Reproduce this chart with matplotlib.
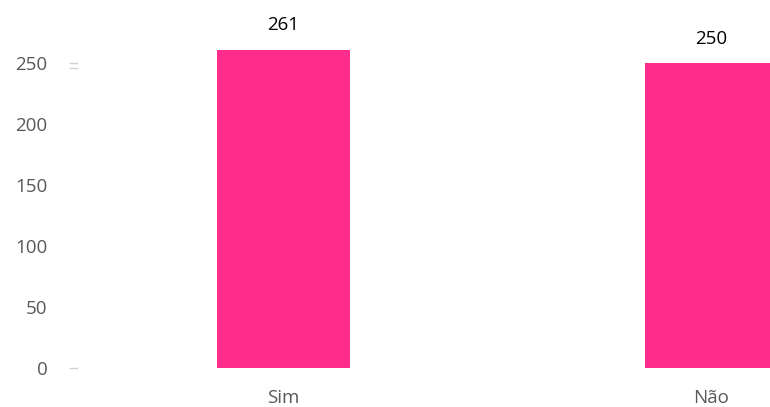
import matplotlib
matplotlib.use("Agg")
import matplotlib.pyplot as plt
from matplotlib.transforms import blended_transform_factory

categories = ["Sim", "Não"]
values = [261, 250]
yticks = [0, 50, 100, 150, 200, 250]

W, H = 770, 407
fig = plt.figure(figsize=(W / 100, H / 100), dpi=100)
left, bottom = 80, 39
ax = fig.add_axes([left / W, bottom / H, 1 - left / W, 1 - bottom / H])

x = list(range(len(categories)))
bars = ax.bar(x, values, width=0.311, color="#FF2D8B", zorder=2)
ax.set_xlim(-0.476, 1.138)
ax.set_ylim(0, 301.6)

FS = 13.5
for b, v in zip(bars, values):
    ax.annotate(str(v), (b.get_x() + b.get_width() / 2, v), xytext=(0, 11),
                textcoords="offset points", ha="center", va="bottom",
                fontsize=FS, color="black", family="Open Sans")

ax.set_xticks(x)
ax.set_xticklabels(categories)
ax.set_yticks(yticks)
ax.tick_params(axis="y", length=0, pad=23.5, labelsize=FS, labelcolor="#595959")
ax.tick_params(axis="x", length=0, pad=15, labelsize=FS, labelcolor="#595959")
for lbl in ax.get_xticklabels() + ax.get_yticklabels():
    lbl.set_family("Open Sans")
for s in ax.spines.values():
    s.set_visible(False)

# faint tick marks left of the plot
tr = blended_transform_factory(ax.transAxes, ax.transData)
x0, x1 = -10 / (W - left), -3 / (W - left)
for yv in [0, 250, 246]:
    ax.plot([x0, x1], [yv, yv], color="#D0D0D0", lw=1, transform=tr, clip_on=False)

fig.savefig("out.png", dpi=100)
